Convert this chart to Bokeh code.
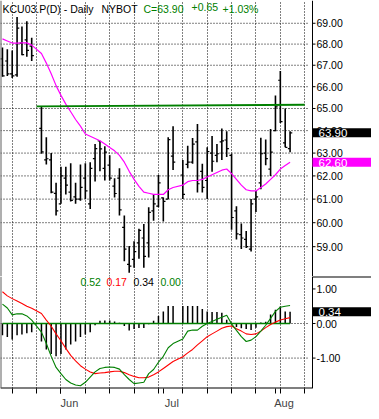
import numpy as np
import pandas as pd
from bokeh.plotting import figure
from bokeh.layouts import column
from bokeh.models import Range1d, FixedTicker, PrintfTickFormatter, Label, Span
from bokeh.embed import file_html
from bokeh.resources import INLINE

# ---------------- data ----------------
holidays = ["2003-05-26", "2003-07-04"]
dates = [d for d in pd.bdate_range("2003-05-15", "2003-08-06").strftime("%Y-%m-%d") if d not in holidays]

opens = [67.30, 67.20, 66.60, 66.55, 68.05, 68.20, 67.90,
         64.10, 62.70, 62.70, 61.25, 60.80, 61.90, 61.30, 61.10, 61.00, 61.90, 60.80, 62.76, 63.54, 62.33,
         62.47, 61.56, 61.90, 59.80, 58.27, 58.48, 59.16, 59.36, 59.16, 60.50, 60.70, 61.05, 61.00, 62.87,
         62.04, 62.50, 62.60, 63.50, 62.20, 61.80, 63.00, 62.90, 63.50, 63.58, 62.90, 60.50, 59.50, 59.30,
         58.90, 61.00, 61.70, 63.00, 62.30, 64.00, 66.30, 63.45, 63.20]
highs = [67.84, 67.76, 67.70, 69.30, 68.85, 69.10, 68.30,
         65.10, 63.70, 63.00, 61.70, 62.40, 62.40, 62.55, 61.70, 62.50, 62.55, 62.60, 63.40, 63.55, 63.30,
         62.90, 61.90, 62.33, 60.30, 59.03, 59.22, 59.75, 59.95, 60.65, 61.20, 62.04, 61.07, 63.70, 64.20,
         62.70, 63.33, 63.67, 64.30, 62.53, 63.26, 63.76, 63.40, 64.10, 63.97, 62.97, 60.70, 59.97, 59.65,
         61.00, 61.35, 63.68, 63.60, 64.07, 65.60, 66.73, 65.00, 63.97]
lows = [66.46, 66.50, 66.40, 66.46, 67.47, 67.40, 67.20,
        62.97, 62.50, 61.25, 60.30, 60.80, 61.20, 60.90, 60.80, 60.93, 61.00, 60.58, 61.76, 62.20, 61.80,
        61.80, 61.07, 60.30, 58.40, 57.93, 58.14, 58.50, 58.14, 58.55, 60.08, 60.65, 60.05, 61.00, 62.26,
        61.00, 62.33, 62.53, 61.28, 61.28, 61.00, 62.18, 62.60, 62.70, 62.83, 59.70, 59.30, 58.90, 58.95,
        58.80, 60.45, 61.42, 62.47, 62.00, 63.97, 64.34, 63.26, 63.04]
closes = [66.50, 66.60, 66.50, 68.77, 67.50, 67.70, 67.45,
          63.05, 62.75, 61.30, 60.50, 62.00, 61.60, 60.95, 61.00, 61.50, 61.35, 62.33, 63.20, 63.19, 63.04,
          61.90, 61.24, 60.54, 58.90, 58.20, 58.80, 59.68, 58.60, 60.44, 60.80, 61.70, 60.90, 63.60, 62.60,
          61.20, 62.60, 63.40, 61.66, 61.50, 63.07, 62.64, 62.97, 63.54, 63.20, 60.22, 59.53, 59.36, 59.00,
          60.80, 61.10, 62.97, 62.76, 63.04, 65.07, 64.40, 63.25, 63.90]
ma = [68.25, 68.15, 68.05, 68.05, 68.06, 68.06, 67.95,
      67.55, 67.10, 66.60, 66.05, 65.60, 65.20, 64.85, 64.50, 64.20, 63.85, 63.75, 63.65, 63.55, 63.40,
      63.25, 63.10, 62.90, 62.60, 62.20, 61.85, 61.55, 61.30, 61.25, 61.20, 61.20, 61.20, 61.40, 61.50,
      61.60, 61.75, 61.80, 61.80, 61.85, 61.95, 62.05, 62.15, 62.25, 62.30, 62.10, 61.85, 61.60, 61.40,
      61.35, 61.35, 61.50, 61.65, 61.85, 62.05, 62.30, 62.45, 62.60]
macd = [0.56, 0.45, 0.25, 0.28, 0.28, 0.22, 0.10,
        -0.25, -0.58, -0.95, -1.27, -1.45, -1.62, -1.72, -1.78, -1.80, -1.70, -1.55, -1.40, -1.30, -1.27,
        -1.26, -1.27, -1.32, -1.48, -1.62, -1.74, -1.72, -1.70, -1.45, -1.33, -1.12, -0.95, -0.70, -0.58,
        -0.45, -0.22, -0.19, -0.19, -0.08, 0.00, 0.06, 0.12, 0.18, 0.24, -0.01, -0.20, -0.38, -0.52,
        -0.48, -0.38, -0.22, -0.05, 0.15, 0.35, 0.47, 0.50, 0.52]
signal = [0.92, 0.80, 0.72, 0.65, 0.58, 0.50, 0.44,
          0.29, 0.10, -0.08, -0.30, -0.50, -0.72, -0.92, -1.08, -1.22, -1.32, -1.40, -1.45, -1.43, -1.42,
          -1.40, -1.38, -1.38, -1.42, -1.48, -1.53, -1.57, -1.57, -1.55, -1.48, -1.40, -1.30, -1.20, -1.10,
          -0.96, -0.85, -0.75, -0.62, -0.50, -0.38, -0.30, -0.22, -0.14, -0.09, -0.07, -0.15, -0.22, -0.30,
          -0.32, -0.30, -0.22, -0.12, -0.03, 0.04, 0.10, 0.14, 0.17]
hist = [-0.34, -0.39, -0.46, -0.34, -0.32, -0.28, -0.25,
        -0.52, -0.75, -0.88, -0.95, -0.88, -0.75, -0.61, -0.52, -0.39, -0.32, -0.25, -0.05, 0.08, 0.09,
        0.09, 0.06, 0.02, -0.07, -0.20, -0.16, -0.13, -0.13, -0.02, 0.08, 0.22, 0.35, 0.51, 0.51,
        0.51, 0.51, 0.51, 0.51, 0.42, 0.35, 0.33, 0.33, 0.31, 0.11, 0.00, -0.10, -0.14, -0.16,
        -0.19, -0.12, 0.03, 0.05, 0.26, 0.40, 0.49, 0.35, 0.34]
zero_level = 0.00
res_dates = ["2003-05-26", "2003-08-11"]
res_values = [65.10, 65.17]
price_ticks = [59, 60, 61, 62, 63, 64, 65, 66, 67, 68, 69]
macd_ticks = [-1.0, 0.0, 1.0]
macd_grid = [-1.0, 0.0]
month_labels = ["Jun", "Jul", "Aug"]
last_close, last_ma, last_hist = 63.90, 62.60, 0.34
legend_vals = ["0.52", "0.17", "0.34", "0.00"]

# ---------------- positions (trading-day slots) ----------------
start = np.datetime64(dates[0], "D")
x = np.busday_count(start, np.array(dates, dtype="datetime64[D]")).astype(float)
mondays = pd.date_range("2003-05-19", "2003-08-11", freq="W-MON").strftime("%Y-%m-%d")
week_x = list(np.busday_count(start, np.array(list(mondays), dtype="datetime64[D]")).astype(float))
month_first = []
for m in ["2003-06", "2003-07", "2003-08"]:
    d = [dd for dd in dates if dd.startswith(m)][0]
    month_first.append(float(np.busday_count(start, np.datetime64(d, "D"))))
label_pos = [mf + 1.75 for mf in month_first]
res_x = list(np.busday_count(start, np.array(res_dates, dtype="datetime64[D]")).astype(float))

# ---------------- style constants ----------------
FONT = "Liberation Sans"
GREEN = "#008000"
MAG = "#FF00FF"
W = 371
PXU = 4.875                    # pixels per trading-day slot
X0 = -0.4
AX = 63.6                      # where the price scale line sits
XR = Range1d(X0, X0 + W / PXU)
GRID_END = AX - 1.0
TICK_LEN = 3 / PXU
STANDOFF = -55

def style(p, grid_vals):
    p.outline_line_color = None
    p.background_fill_color = "white"
    p.border_fill_color = "white"
    p.xgrid.ticker = FixedTicker(ticks=week_x)
    p.xgrid.grid_line_color = "#000000"
    p.xgrid.grid_line_dash = "1 2"
    p.ygrid.visible = False
    # horizontal dotted grid, stopped before the price scale
    p.segment(x0=[X0] * len(grid_vals), y0=grid_vals, x1=[GRID_END] * len(grid_vals), y1=grid_vals,
              line_color="#000000", line_dash="1 2", line_width=1)
    ax = p.yaxis[0]
    ax.level = "underlay"
    ax.axis_line_color = None
    ax.major_tick_in = 0
    ax.major_tick_out = 0
    ax.minor_tick_line_color = None
    ax.major_tick_line_color = None
    ax.major_label_standoff = STANDOFF
    ax.major_label_text_font = FONT
    ax.major_label_text_font_size = "10.5px"
    ax.major_label_text_color = "black"
    p.add_layout(Span(location=X0, dimension="height", line_color="#606060", line_width=2))
    p.add_layout(Span(location=AX, dimension="height", line_color="black", line_width=1))

# ---------------- price panel ----------------
YR1 = Range1d(57.78, 70.11)
p1 = figure(width=W, height=276, x_range=XR, y_range=YR1, y_axis_type="log",
            x_axis_location=None, y_axis_location="right", toolbar_location=None,
            output_backend="svg", min_border_left=0, min_border_right=0,
            min_border_top=0, min_border_bottom=0)
style(p1, price_ticks)
p1.yaxis.ticker = FixedTicker(ticks=price_ticks)
p1.yaxis.formatter = PrintfTickFormatter(format="%.2f")
p1.segment(x0=[AX] * len(price_ticks), y0=price_ticks, x1=[AX + TICK_LEN] * len(price_ticks),
           y1=price_ticks, line_color="black", line_width=1)

tick = 0.45
p1.segment(x0=x, y0=lows, x1=x, y1=highs, line_color="black", line_width=1.6)
p1.segment(x0=x - tick, y0=opens, x1=x, y1=opens, line_color="black", line_width=1.2)
p1.segment(x0=x, y0=closes, x1=x + tick, y1=closes, line_color="black", line_width=1.2)
p1.line(x, ma, line_color=MAG, line_width=1.2)
p1.line(res_x, res_values, line_color=GREEN, line_width=1.8)

title_parts = [("KCU03.P(D) - Daily", "black", 2), ("NYBOT", "black", 101),
               ("C=63.90", GREEN, 143), ("+0.65", GREEN, 191), ("+1.03%", GREEN, 222)]
for t, c, off in title_parts:
    p1.add_layout(Label(x=X0, y=YR1.end, x_offset=off, y_offset=-2, text=t, text_color=c,
                        text_font=FONT, text_font_size="10.5px", text_baseline="top", text_align="left"))

box_kw = dict(text_color="white", text_font=FONT, text_font_size="11.5px",
              text_baseline="middle", text_align="left", padding=(6, 60, 1, 0))
p1.add_layout(Label(x=AX, y=last_close, text=f"{last_close:.2f}", background_fill_color="black", **box_kw))
p1.add_layout(Label(x=AX, y=last_ma, text=f"{last_ma:.2f}", background_fill_color=MAG, **box_kw))

# ---------------- MACD panel ----------------
YR2 = Range1d(-1.88, 1.36)
p2 = figure(width=W, height=135, x_range=XR, y_range=YR2,
            y_axis_location="right", toolbar_location=None, output_backend="svg",
            min_border_left=0, min_border_right=0, min_border_top=0, min_border_bottom=17)
style(p2, macd_grid)
p2.yaxis.ticker = FixedTicker(ticks=macd_ticks)
p2.yaxis.formatter = PrintfTickFormatter(format="%.2f")
p2.segment(x0=[AX] * len(macd_ticks), y0=macd_ticks, x1=[AX + TICK_LEN] * len(macd_ticks),
           y1=macd_ticks, line_color="black", line_width=1)
# frame lines: bottom of the chart and separator in the scale column
p2.segment(x0=[X0], y0=[YR2.start], x1=[AX], y1=[YR2.start], line_color="black", line_width=2)
p2.segment(x0=[AX], y0=[YR2.end], x1=[XR.end], y1=[YR2.end], line_color="black", line_width=2)

xa = p2.xaxis[0]
xa.ticker = FixedTicker(ticks=label_pos, minor_ticks=week_x + month_first)
xa.major_label_overrides = {lp: lab for lp, lab in zip(label_pos, month_labels)}
xa.major_tick_out = 0
xa.major_tick_in = 0
xa.minor_tick_out = 5
xa.minor_tick_in = 0
xa.minor_tick_line_color = "black"
xa.axis_line_color = None
xa.major_label_standoff = 3
xa.major_label_text_font = FONT
xa.major_label_text_font_size = "11px"

p2.segment(x0=x, y0=0, x1=x, y1=hist, line_color="black", line_width=1.5)
p2.line([x[0], x[-1]], [zero_level, zero_level], line_color=GREEN, line_width=1.6)
p2.line(x, signal, line_color="#FF0000", line_width=1.1)
p2.line(x, macd, line_color=GREEN, line_width=1.1)

for (t, c), off in zip(zip(legend_vals, [GREEN, "#FF0000", "black", GREEN]), [80, 106, 133, 160]):
    p2.add_layout(Label(x=X0, y=YR2.end, x_offset=off, y_offset=-1, text=t, text_color=c,
                        text_font=FONT, text_font_size="10.5px", text_baseline="top", text_align="left"))
p2.add_layout(Label(x=AX, y=last_hist, text=f"{last_hist:.2f}", background_fill_color="black", **box_kw))

layout = column(p1, p2, spacing=0)
open("out.html", "w").write(file_html(layout, INLINE))
